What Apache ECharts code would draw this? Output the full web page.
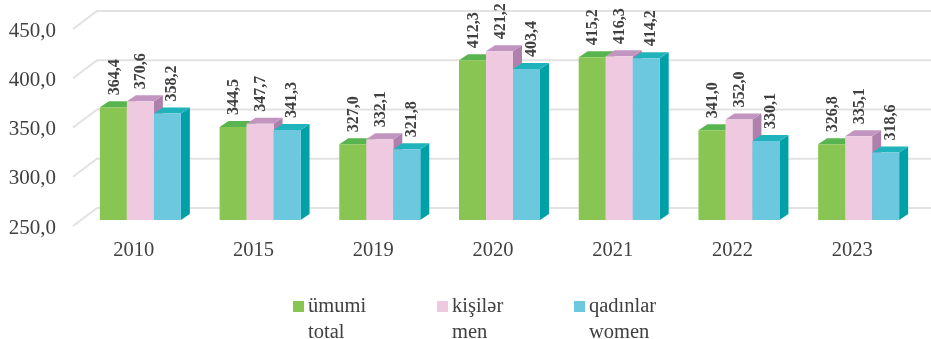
<!DOCTYPE html>
<html><head><meta charset="utf-8">
<style>html,body{margin:0;padding:0;background:#fff}#c{width:931px;height:339px}</style>
<script src="https://cdn.jsdelivr.net/npm/echarts@6/dist/echarts.min.js"></script>
</head><body><div id="c"></div>
<script>
const categories = ['2010','2015','2019','2020','2021','2022','2023'];
const total = [364.4,344.5,327.0,412.3,415.2,341.0,326.8];
const men = [370.6,347.7,332.1,421.2,416.3,352.0,335.1];
const women = [358.2,341.3,321.8,403.4,414.2,330.1,318.6];
const ticks = [250,300,350,400,450];
const namesAz = ['ümumi','kişilər','qadınlar'];
const namesEn = ['total','men','women'];
const values = [total,men,women];
const palette = [
  {front:'#88C552',top:'#58B44E',side:'#4FA63F',lx:1},
  {front:'#EFC9E0',top:'#C295C0',side:'#AF80AB',lx:1},
  {front:'#6CC8DE',top:'#1FB4BC',side:'#00A1A6',lx:5}
];
const FONT = '"Liberation Serif","Times New Roman",serif';
const TXT = '#404040';
const DX = 9, DY = 6;
const fmt = v => v.toFixed(1).replace('.',',');

function barSeries(idx){
  const p = palette[idx];
  return {
    type:'custom', name:namesAz[idx], z:5+idx, silent:true,
    itemStyle:{color:p.front},
    encode:{x:0,y:1},
    data:values[idx].map((v,i)=>[i,v]),
    renderItem(params,api){
      const cat=api.value(0), val=api.value(1);
      const band=api.size([1,0])[0];
      const w=band*0.2255;
      const c=api.coord([cat,val]), b=api.coord([cat,250]);
      const x=c[0]-1.5*w+idx*w+0.5, r=x+w;
      return {type:'group',children:[
        {type:'polygon',shape:{points:[[r,c[1]],[r+DX,c[1]-DY],[r+DX,b[1]-DY],[r,b[1]]]},style:{fill:p.side}},
        {type:'polygon',shape:{points:[[x,c[1]],[x+DX,c[1]-DY],[r+DX,c[1]-DY],[r,c[1]]]},style:{fill:p.top}},
        {type:'rect',shape:{x:x,y:c[1],width:w,height:b[1]-c[1]},style:{fill:p.front}},
        {type:'text',x:x+w/2+p.lx,y:c[1]-12,rotation:Math.PI/2,
          style:{text:fmt(val),fill:TXT,font:'bold 16px '+FONT,align:'left',verticalAlign:'middle'}}
      ]};
    }
  };
}
const gridSeries = {
  type:'custom', silent:true, z:1, legendHoverLink:false,
  data:ticks.map(t=>[0,t]), encode:{x:0,y:1},
  renderItem(params,api){
    const y=api.coord([0,api.value(1)])[1];
    return {type:'polyline',shape:{points:[[73,y+6],[97,y-12],[931,y-12]]},
      style:{fill:'none',stroke:'#E2E2E2',lineWidth:2}};
  }
};
const legendX=[293,437,574];
const legends=namesAz.map((n,i)=>({
  left:legendX[i],top:296,orient:'horizontal',icon:'rect',itemWidth:11,itemHeight:11,itemGap:0,
  data:[n],selectedMode:false,padding:0,
  textStyle:{fontFamily:FONT,fontSize:20.5,color:TXT,padding:[4,0,0,-1]}
}));
const chart=echarts.init(document.getElementById('c'),null,{renderer:'canvas'});
chart.setOption({
  animation:false,
  backgroundColor:'#fff',
  grid:{left:80,width:838,top:23,height:197},
  legend:legends,
  tooltip:{show:false},
  xAxis:{type:'category',data:categories,
    axisLine:{show:false},axisTick:{show:false},splitLine:{show:false},
    axisLabel:{interval:0,margin:20,fontFamily:FONT,fontSize:20.5,color:TXT,padding:[0,12,0,0]}},
  yAxis:{type:'value',min:250,max:450,interval:50,
    axisLine:{show:false},axisTick:{show:false},splitLine:{show:false},
    axisLabel:{margin:24,fontFamily:FONT,fontSize:21,color:TXT,verticalAlign:'top',lineHeight:16,
      formatter:v=>fmt(v)}},
  graphic:namesEn.map((n,i)=>({type:'text',left:legendX[i]+15,top:322,silent:true,
    style:{text:n,font:'20.5px '+FONT,fill:TXT}})),
  series:[gridSeries,barSeries(0),barSeries(1),barSeries(2)]
});
</script></body></html>
